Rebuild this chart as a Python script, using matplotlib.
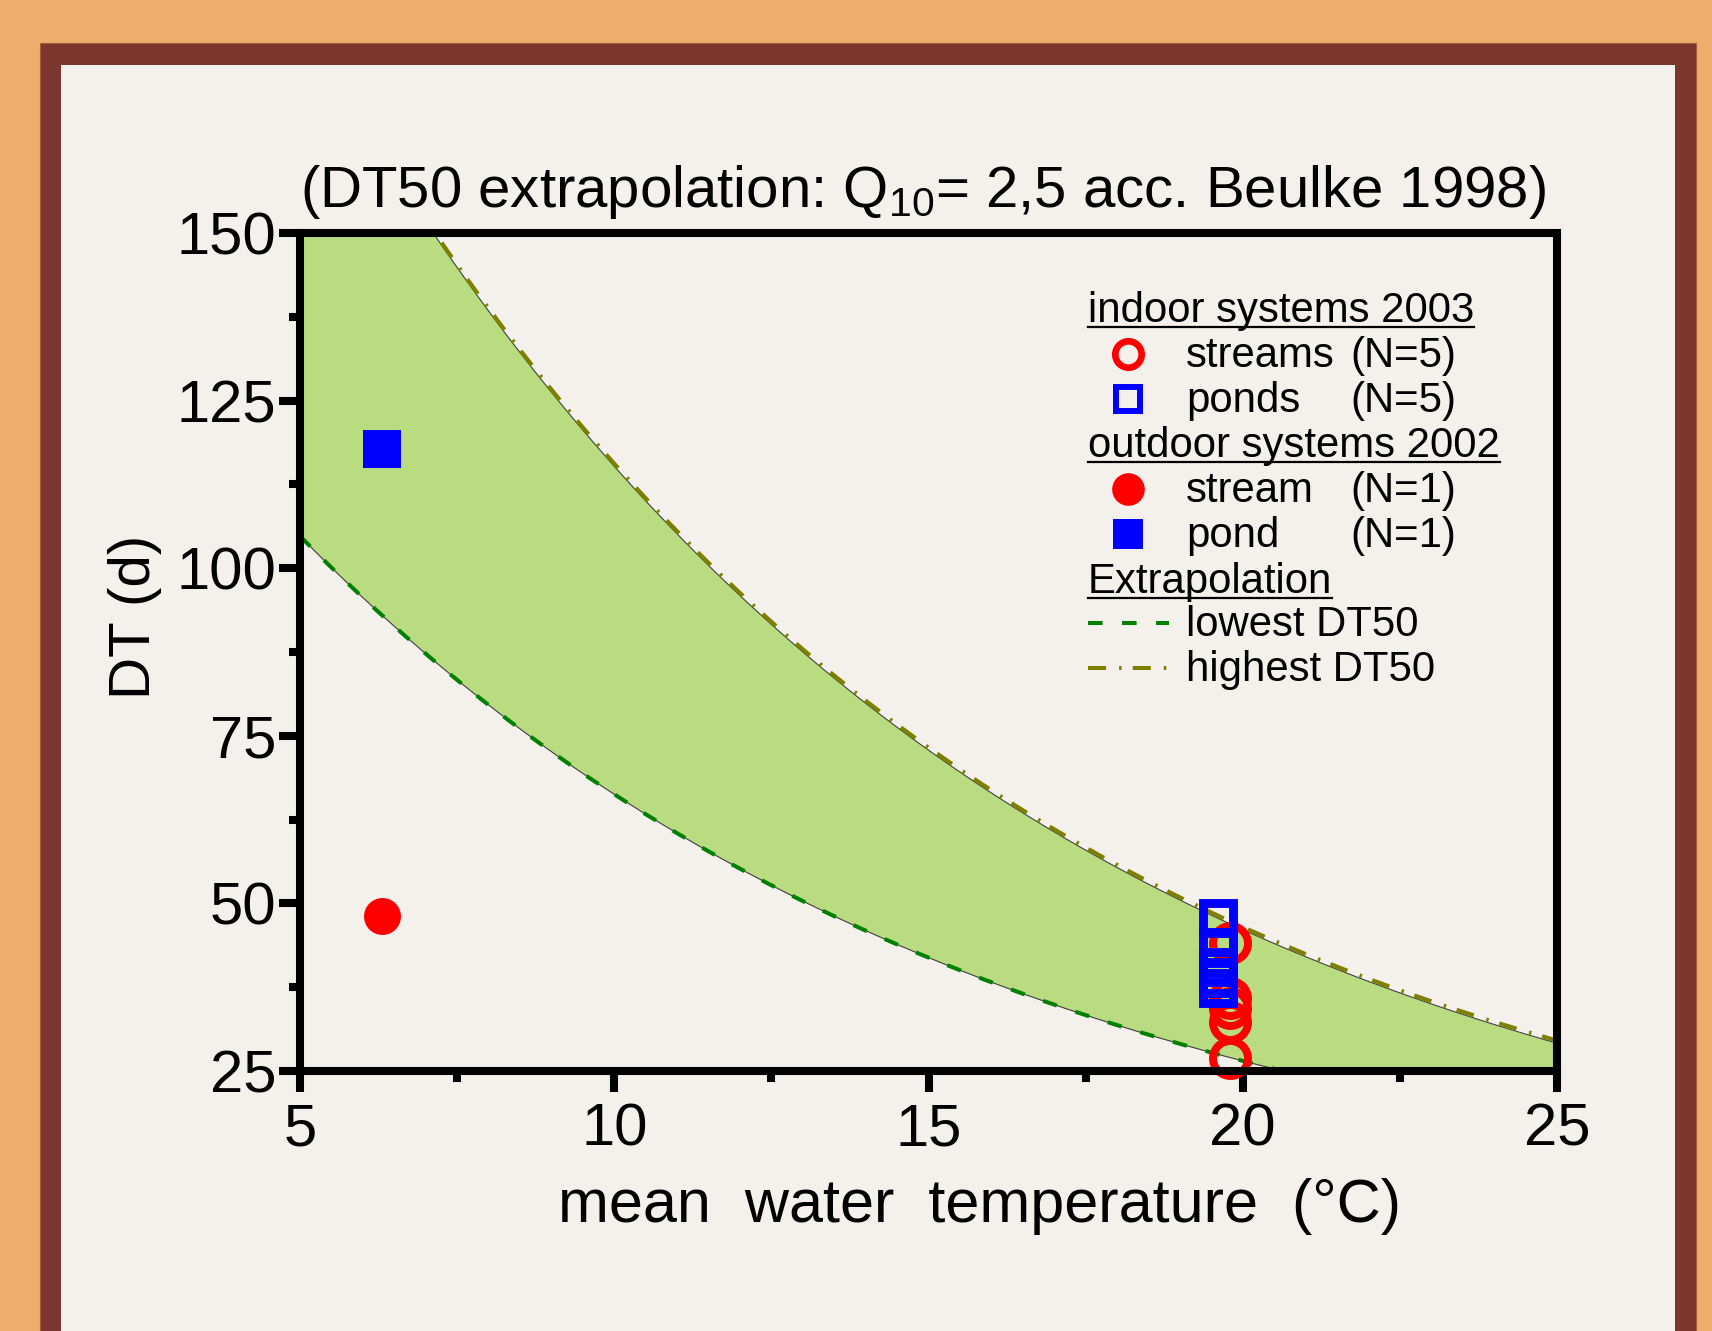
import numpy as np
import matplotlib
matplotlib.use("Agg")
import matplotlib.pyplot as plt
from matplotlib import font_manager
from matplotlib.patches import Rectangle
from matplotlib.lines import Line2D

# ---------------- data ----------------
q10 = 2.5
temp_axis = [5, 25]
dt_axis = [25, 150]

indoor_streams_T = [19.8, 19.8, 19.8, 19.8, 19.8]
indoor_streams_DT = [44.1, 35.9, 34.4, 32.3, 27.0]
indoor_ponds_T = [19.6, 19.6, 19.6, 19.6, 19.6]
indoor_ponds_DT = [47.8, 43.5, 40.5, 38.8, 37.4]
outdoor_stream_T = [6.3]
outdoor_stream_DT = [48.1]
outdoor_pond_T = [6.3]
outdoor_pond_DT = [117.8]

legend_headers = ["indoor systems 2003", "outdoor systems 2002", "Extrapolation"]
legend_names = ["streams", "ponds", "stream", "pond"]
legend_counts = ["(N=5)", "(N=5)", "(N=1)", "(N=1)"]
legend_lines = ["lowest DT50", "highest DT50"]

title_text = r"(DT50 extrapolation: Q$_{10}$= 2,5 acc. Beulke 1998)"
xlabel_text = "mean  water  temperature  (°C)"
ylabel_text = "DT (d)"

# ---------------- fonts ----------------
names = {f.name for f in font_manager.fontManager.ttflist}
narrow = "Liberation Sans Narrow" if "Liberation Sans Narrow" in names else "Liberation Sans"
plt.rcParams["font.family"] = ["Liberation Sans", "DejaVu Sans"]
plt.rcParams["mathtext.fontset"] = "custom"
plt.rcParams["mathtext.rm"] = narrow
plt.rcParams["mathtext.it"] = narrow
plt.rcParams["mathtext.default"] = "rm"
plt.rcParams["lines.scale_dashes"] = False

W, H = 1712, 1331
fig = plt.figure(figsize=(W / 100, H / 100), dpi=100, facecolor="#EDAE6B")


def fx(px):
    return px / W


def fy(py):
    return 1 - py / H


# frame
fig.patches.append(Rectangle((fx(40), -0.01), fx(1696) - fx(40), fy(43) + 0.01,
                             transform=fig.transFigure, facecolor="#7B362E",
                             edgecolor="#A35B3F", lw=0.8, zorder=-3))
fig.patches.append(Rectangle((fx(61), -0.01), fx(1675) - fx(61), fy(65) + 0.01,
                             transform=fig.transFigure, facecolor="#F4F1EC",
                             edgecolor="none", zorder=-2))

L, R, T, B = 300, 1557, 233, 1071
ax = fig.add_axes([fx(L), fy(B), (R - L) / W, (B - T) / H])
ax.set_facecolor("none")


def axc(px, py):
    return (px - L) / (R - L), (B - py) / (B - T)


# ---------------- extrapolation curves ----------------
temps = np.linspace(temp_axis[0], temp_axis[1], 500)
i_lo = int(np.argmin(indoor_streams_DT))
i_hi = int(np.argmax(indoor_ponds_DT))
lowest = indoor_streams_DT[i_lo] * q10 ** ((indoor_streams_T[i_lo] - temps) / 10.0)
highest = indoor_ponds_DT[i_hi] * q10 ** ((indoor_ponds_T[i_hi] - temps) / 10.0)

ax.fill_between(temps, lowest, highest, color="#B9DC80", lw=0, zorder=1)
ax.plot(temps, lowest, color="#404040", lw=0.8, zorder=2)
ax.plot(temps, highest, color="#404040", lw=0.8, zorder=2)
ax.plot(temps, lowest, color="#008000", lw=2.9, dashes=(10.5, 14), zorder=3)
ax.plot(temps, highest + 0.4, color="#808000", lw=2.9, dashes=(13, 9.4, 1.8, 8), zorder=3)

# ---------------- markers ----------------
ax.plot(outdoor_pond_T, outdoor_pond_DT, ls="none", marker="s", ms=27.4,
        mfc="#0000FF", mec="#0000FF", mew=0, zorder=5)
ax.plot(outdoor_stream_T, outdoor_stream_DT, ls="none", marker="o", ms=26.6,
        mfc="#FF0000", mec="#FF0000", mew=0, zorder=5)
ax.plot(indoor_streams_T, indoor_streams_DT, ls="none", marker="o", ms=25.2,
        mfc="none", mec="#FF0000", mew=5.7, zorder=5, clip_on=False)
ax.plot(indoor_ponds_T, indoor_ponds_DT, ls="none", marker="s", ms=21.0,
        mfc="none", mec="#0000FF", mew=6.4, zorder=6, clip_on=False)

# ---------------- axes styling ----------------
ax.set_xlim(*temp_axis)
ax.set_ylim(*dt_axis)
ax.set_xticks([5, 10, 15, 20, 25])
ax.set_yticks([25, 50, 75, 100, 125, 150])
ax.set_xticks(np.arange(7.5, 25, 5), minor=True)
ax.set_yticks(np.arange(37.5, 150, 25), minor=True)
for s in ax.spines.values():
    s.set_linewidth(5.8)
    s.set_zorder(10)
ax.tick_params(which="major", direction="out", length=15, width=5.8, labelsize=43)
ax.tick_params(which="minor", direction="out", length=8, width=5.8)
ax.tick_params(axis="x", which="major", pad=8)
ax.tick_params(axis="y", which="major", pad=2)

ax.set_xlabel(xlabel_text, fontsize=44)
ax.xaxis.set_label_coords((980 - L) / (R - L), (B - 1178) / (B - T))
ax.set_ylabel(ylabel_text, fontsize=42)
ax.yaxis.set_label_coords((162 - L) / (R - L), (B - 617) / (B - T))

title = ax.text((923 - L) / (R - L), (B - 207) / (B - T), title_text,
                transform=ax.transAxes, ha="center", va="baseline",
                fontsize=42, family=[narrow, "Liberation Sans"])

# ---------------- legend (manual key) ----------------
fs_leg = 30.2
hx = 1088
header_base = [322, 457, 593]
row_centres = [354, 399, 489, 534]
line_centres = [623, 668]
headers = []
for txt, yb in zip(legend_headers, header_base):
    headers.append(ax.text(*axc(hx, yb), txt, transform=ax.transAxes,
                           ha="left", va="baseline", fontsize=fs_leg))

key_styles = [
    dict(marker="o", ms=19, mfc="none", mec="#FF0000", mew=4.8),
    dict(marker="s", ms=16.6, mfc="none", mec="#0000FF", mew=4.3),
    dict(marker="o", ms=23.5, mfc="#FF0000", mec="#FF0000", mew=0),
    dict(marker="s", ms=21, mfc="#0000FF", mec="#0000FF", mew=0),
]
for name, cnt, yc, st in zip(legend_names, legend_counts, row_centres, key_styles):
    kx, ky = axc(1128, yc)
    ax.plot([kx], [ky], ls="none", transform=ax.transAxes, clip_on=False, **st)
    ax.text(*axc(1186, yc + 13), name, transform=ax.transAxes, ha="left",
            va="baseline", fontsize=fs_leg)
    ax.text(*axc(1350, yc + 13), cnt, transform=ax.transAxes, ha="left",
            va="baseline", fontsize=fs_leg)

line_styles = [dict(color="#008000", lw=2.9, dashes=(10.5, 14)),
               dict(color="#808000", lw=2.9, dashes=(13, 9.4, 1.8, 8))]
for name, yc, st in zip(legend_lines, line_centres, line_styles):
    x0, y0 = axc(1088, yc)
    x1, _ = axc(1169, yc)
    ax.plot([x0, x1], [y0, y0], transform=ax.transAxes, clip_on=False, **st)
    ax.text(*axc(1186, yc + 13), name, transform=ax.transAxes, ha="left",
            va="baseline", fontsize=fs_leg)

# scale title towards reference width and underline headers
fig.canvas.draw()
r = fig.canvas.get_renderer()
tb = title.get_window_extent(r)
target_w = 1228 if narrow != "Liberation Sans" else 1248
title.set_fontsize(42 * target_w / tb.width)
for t, yb in zip(headers, header_base):
    bb = t.get_window_extent(r)
    yy = fy(yb + 5)
    fig.add_artist(Line2D([bb.x0 / W, bb.x1 / W], [yy, yy], color="black", lw=1.6))

fig.savefig("out.png", dpi=100, facecolor=fig.get_facecolor())
